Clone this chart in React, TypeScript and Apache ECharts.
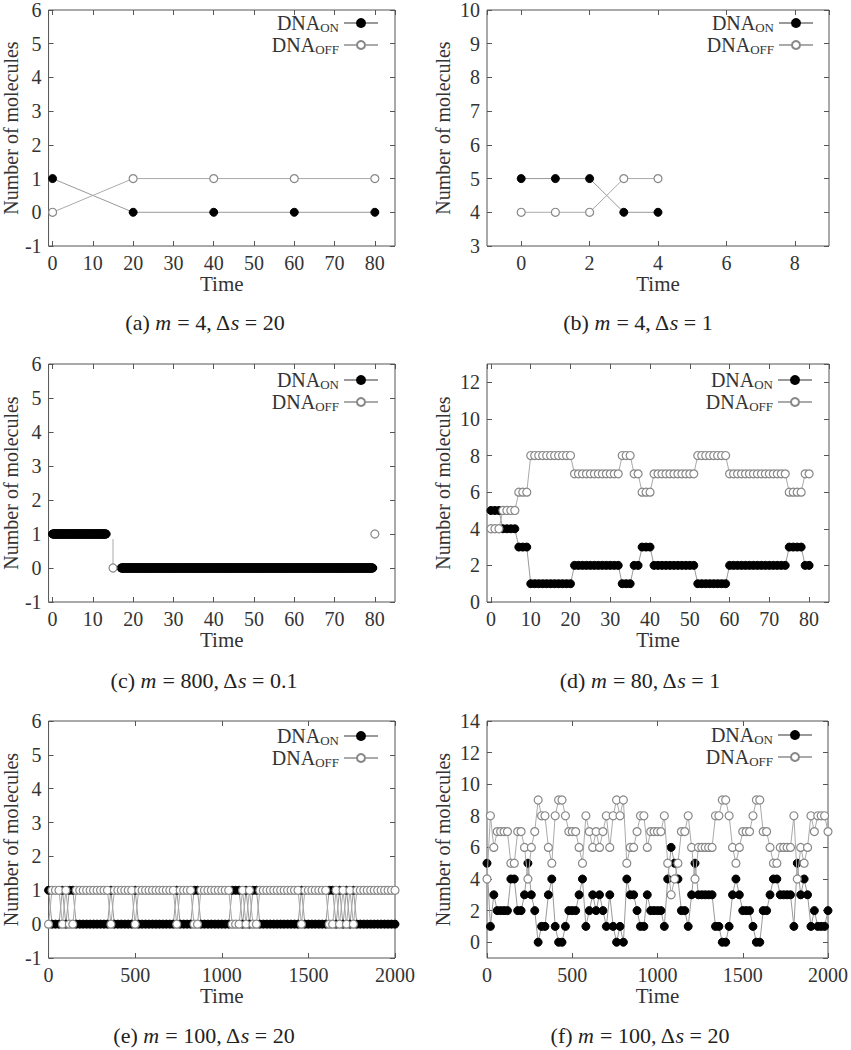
import React, { useEffect, useRef } from 'react';
import * as echarts from 'echarts';

const FONT = 'Liberation Serif, DejaVu Serif, serif';
const TEXT = '#333';
const AXIS = '#555';

// ---------- (a) m = 4, Δs = 20 ----------
const aTime = [0, 20, 40, 60, 80];
const aOn = [1, 0, 0, 0, 0];
const aOff = [0, 1, 1, 1, 1];

// ---------- (b) m = 4, Δs = 1 ----------
const bTime = [0, 1, 2, 3, 4];
const bOn = [5, 5, 5, 4, 4];
const bOff = [4, 4, 4, 5, 5];

// ---------- (c) m = 800, Δs = 0.1 ----------
const cStep = 0.1;
const cOnRuns = [
  { from: 0, to: 13.3, value: 1 },
  { from: 17, to: 79.5, value: 0 },
];
const cOffLine = [[15, 0.85], [15, 0]];
const cOffPoints = [[15, 0], [80, 1]];

// ---------- (d) m = 80, Δs = 1 ----------
const dStep = 1;
const dOn = [
  5, 5, 5, 4, 4, 4, 4, 3, 3, 3,
  1, 1, 1, 1, 1, 1, 1, 1, 1, 1,
  1, 2, 2, 2, 2, 2, 2, 2, 2, 2,
  2, 2, 2, 1, 1, 1, 2, 2, 3, 3,
  3, 2, 2, 2, 2, 2, 2, 2, 2, 2,
  2, 2, 1, 1, 1, 1, 1, 1, 1, 1,
  2, 2, 2, 2, 2, 2, 2, 2, 2, 2,
  2, 2, 2, 2, 2, 3, 3, 3, 3, 2,
  2,
];
const dOff = [
  4, 4, 4, 5, 5, 5, 5, 6, 6, 6,
  8, 8, 8, 8, 8, 8, 8, 8, 8, 8,
  8, 7, 7, 7, 7, 7, 7, 7, 7, 7,
  7, 7, 7, 8, 8, 8, 7, 7, 6, 6,
  6, 7, 7, 7, 7, 7, 7, 7, 7, 7,
  7, 7, 8, 8, 8, 8, 8, 8, 8, 8,
  7, 7, 7, 7, 7, 7, 7, 7, 7, 7,
  7, 7, 7, 7, 7, 6, 6, 6, 6, 7,
  7,
];

// ---------- (e) m = 100, Δs = 20 ----------
const eStep = 20;
const eOn = [
  1, 0, 0, 0, 1, 0, 1, 1, 0, 0,
  0, 0, 0, 0, 0, 0, 0, 0, 1, 0,
  0, 0, 0, 0, 0, 1, 0, 0, 0, 0,
  0, 0, 0, 0, 0, 0, 0, 1, 0, 0,
  0, 0, 1, 1, 0, 0, 0, 0, 0, 0,
  0, 0, 0, 1, 1, 1, 0, 1, 0, 1,
  1, 0, 0, 0, 0, 0, 0, 0, 0, 0,
  0, 0, 0, 1, 0, 0, 0, 0, 0, 0,
  0, 1, 1, 0, 1, 0, 1, 0, 1, 0,
  0, 0, 0, 0, 0, 0, 0, 0, 0, 0,
  0,
];
const eOff = [
  0, 1, 1, 1, 0, 1, 0, 0, 1, 1,
  1, 1, 1, 1, 1, 1, 1, 1, 0, 1,
  1, 1, 1, 1, 1, 0, 1, 1, 1, 1,
  1, 1, 1, 1, 1, 1, 1, 0, 1, 1,
  1, 1, 0, 0, 1, 1, 1, 1, 1, 1,
  1, 1, 1, 0, 0, 0, 1, 0, 1, 0,
  0, 1, 1, 1, 1, 1, 1, 1, 1, 1,
  1, 1, 1, 0, 1, 1, 1, 1, 1, 1,
  1, 0, 0, 1, 0, 1, 0, 1, 0, 1,
  1, 1, 1, 1, 1, 1, 1, 1, 1, 1,
  1,
];

// ---------- (f) m = 100, Δs = 20 ----------
const fStep = 20;
const fOn = [
  5, 1, 3, 2, 2, 2, 2, 4, 4, 2,
  2, 3, 5, 3, 2, 0, 1, 1, 3, 4,
  1, 0, 0, 1, 2, 2, 2, 3, 4, 1,
  2, 3, 2, 3, 2, 1, 3, 1, 0, 1,
  0, 4, 3, 3, 2, 1, 1, 3, 2, 2,
  2, 2, 1, 4, 6, 5, 4, 2, 2, 1,
  3, 5, 3, 3, 3, 3, 3, 1, 1, 0,
  0, 1, 3, 4, 3, 2, 2, 2, 1, 0,
  0, 2, 2, 3, 4, 4, 3, 3, 3, 3,
  1, 5, 3, 4, 3, 1, 2, 1, 1, 1,
  2,
];
const fOff = [
  4, 8, 6, 7, 7, 7, 7, 5, 5, 7,
  7, 6, 4, 6, 7, 9, 8, 8, 6, 5,
  8, 9, 9, 8, 7, 7, 7, 6, 5, 8,
  7, 6, 7, 6, 7, 8, 6, 8, 9, 8,
  9, 5, 6, 6, 7, 8, 8, 6, 7, 7,
  7, 7, 8, 5, 3, 4, 5, 7, 7, 8,
  6, 4, 6, 6, 6, 6, 6, 8, 8, 9,
  9, 8, 6, 5, 6, 7, 7, 7, 8, 9,
  9, 7, 7, 6, 5, 5, 6, 6, 6, 6,
  8, 4, 6, 5, 6, 8, 7, 8, 8, 8,
  7,
];

const ON = 'DNA_ON';
const OFF = 'DNA_OFF';

function pairs(xs: number[], ys: number[]) {
  return ys.map((y, i) => [xs[i], y]);
}
function stepped(step: number, ys: number[]) {
  return ys.map((y, i) => [Math.round(i * step * 1000) / 1000, y]);
}
function runPoints(run: { from: number; to: number; value: number }, step: number) {
  const out: number[][] = [];
  const n = Math.round((run.to - run.from) / step);
  for (let i = 0; i <= n; i++) out.push([Math.round((run.from + i * step) * 1000) / 1000, run.value]);
  return out;
}

type SeriesSpec = { name: string; data: any[]; kind: 'on' | 'off'; lineOnly?: boolean; pointsOnly?: boolean };

type Panel = {
  grid: { left: number; top: number; width: number; height: number };
  x: any;
  y: any;
  series: SeriesSpec[];
  legend: { right: number; top: number };
  caption: { letter: string; m: string; ds: string; x: number; y: number };
  yNameGap: number;
};

const panels: Panel[] = [
  {
    grid: { left: 44, top: 8, width: 351, height: 238 },
    x: { min: -1, max: 85, splitNumber: 9, hideMin: true, hideMax: true },
    y: { min: -1, max: 6, interval: 1 },
    series: [
      { name: ON, data: pairs(aTime, aOn), kind: 'on' },
      { name: OFF, data: pairs(aTime, aOff), kind: 'off' },
    ],
    legend: { right: 472, top: 12 },
    caption: { letter: 'a', m: '4', ds: '20', x: 205, y: 322 },
    yNameGap: 27,
  },
  {
    grid: { left: 487, top: 8, width: 342, height: 238 },
    x: { min: -1, max: 9, splitNumber: 5, hideMin: true, hideMax: true },
    y: { min: 3, max: 10, interval: 1 },
    series: [
      { name: ON, data: pairs(bTime, bOn), kind: 'on' },
      { name: OFF, data: pairs(bTime, bOff), kind: 'off' },
    ],
    legend: { right: 37, top: 12 },
    caption: { letter: 'b', m: '4', ds: '1', x: 638, y: 322 },
    yNameGap: 34,
  },
  {
    grid: { left: 44, top: 364, width: 351, height: 238 },
    x: { min: -1, max: 85, splitNumber: 9, hideMin: true, hideMax: true },
    y: { min: -1, max: 6, interval: 1 },
    series: [
      { name: ON, data: runPoints(cOnRuns[0], cStep), kind: 'on' },
      { name: ON, data: runPoints(cOnRuns[1], cStep), kind: 'on' },
      { name: OFF, data: cOffLine, kind: 'off', lineOnly: true },
      { name: OFF, data: cOffPoints, kind: 'off', pointsOnly: true },
    ],
    legend: { right: 472, top: 369 },
    caption: { letter: 'c', m: '800', ds: '0.1', x: 204, y: 680 },
    yNameGap: 27,
  },
  {
    grid: { left: 487, top: 364, width: 342, height: 238 },
    x: { min: -1, max: 85, splitNumber: 9, hideMin: true, hideMax: true },
    y: { min: 0, max: 13, interval: 2, hideMax: true },
    series: [
      { name: ON, data: stepped(dStep, dOn), kind: 'on' },
      { name: OFF, data: stepped(dStep, dOff), kind: 'off' },
    ],
    legend: { right: 38, top: 369 },
    caption: { letter: 'd', m: '80', ds: '1', x: 640, y: 680 },
    yNameGap: 34,
  },
  {
    grid: { left: 44, top: 721, width: 351, height: 237 },
    x: { min: 0, max: 2000, interval: 500 },
    y: { min: -1, max: 6, interval: 1 },
    series: [
      { name: ON, data: stepped(eStep, eOn), kind: 'on' },
      { name: OFF, data: stepped(eStep, eOff), kind: 'off' },
    ],
    legend: { right: 472, top: 725 },
    caption: { letter: 'e', m: '100', ds: '20', x: 204, y: 1035 },
    yNameGap: 27,
  },
  {
    grid: { left: 487, top: 721, width: 342, height: 237 },
    x: { min: 0, max: 2000, interval: 500 },
    y: { min: -1, max: 14, splitNumber: 7, hideMin: true },
    series: [
      { name: ON, data: stepped(fStep, fOn), kind: 'on' },
      { name: OFF, data: stepped(fStep, fOff), kind: 'off' },
    ],
    legend: { right: 38, top: 724 },
    caption: { letter: 'f', m: '100', ds: '20', x: 640, y: 1035 },
    yNameGap: 34,
  },
];

function buildOption() {
  const grid: any[] = [];
  const xAxis: any[] = [];
  const yAxis: any[] = [];
  const series: any[] = [];
  const legend: any[] = [];
  const graphic: any[] = [];
  const plain = (v: number) => String(v);

  panels.forEach((p, gi) => {
    grid.push({ ...p.grid, show: true, borderColor: AXIS, borderWidth: 1, backgroundColor: 'transparent' });
    const tick = { show: true, inside: true, length: 5, lineStyle: { color: AXIS, width: 1 } };
    const line = { show: false, onZero: false };
    const xBase: any = {
      type: 'value', gridIndex: gi, min: p.x.min, max: p.x.max,
      splitLine: { show: false }, axisLine: line, axisTick: tick,
    };
    if (p.x.interval != null) xBase.interval = p.x.interval;
    if (p.x.splitNumber != null) xBase.splitNumber = p.x.splitNumber;
    const xIdx = xAxis.length;
    xAxis.push({
      ...xBase, position: 'bottom',
      name: 'Time', nameLocation: 'middle', nameGap: 25,
      nameTextStyle: { fontFamily: FONT, fontSize: 21, color: TEXT },
      axisLabel: {
        fontFamily: FONT, fontSize: 20, color: TEXT, margin: 7, formatter: plain,
        showMinLabel: !p.x.hideMin, showMaxLabel: !p.x.hideMax,
      },
    });
    xAxis.push({ ...xBase, position: 'top', axisLabel: { show: false } });

    const yBase: any = {
      type: 'value', gridIndex: gi, min: p.y.min, max: p.y.max,
      splitLine: { show: false }, axisLine: line, axisTick: tick,
    };
    if (p.y.interval != null) yBase.interval = p.y.interval;
    if (p.y.splitNumber != null) yBase.splitNumber = p.y.splitNumber;
    const yIdx = yAxis.length;
    yAxis.push({
      ...yBase, position: 'left',
      name: 'Number of molecules', nameLocation: 'middle', nameGap: p.yNameGap,
      nameTextStyle: { fontFamily: FONT, fontSize: 20, color: TEXT },
      axisLabel: {
        fontFamily: FONT, fontSize: 20, color: TEXT, margin: 7, formatter: plain,
        showMinLabel: !p.y.hideMin, showMaxLabel: !p.y.hideMax,
      },
    });
    yAxis.push({ ...yBase, position: 'right', axisLabel: { show: false } });

    p.series.forEach((s) => {
      const isOn = s.kind === 'on';
      series.push({
        type: 'line', name: s.name, xAxisIndex: xIdx, yAxisIndex: yIdx,
        data: s.data, silent: true, showAllSymbol: true,
        symbol: s.lineOnly ? 'none' : 'circle', symbolSize: 8,
        itemStyle: isOn
          ? { color: '#000', borderColor: '#000', borderWidth: 1 }
          : { color: '#fff', borderColor: '#888', borderWidth: 1.2 },
        lineStyle: { color: isOn ? '#999' : '#aaa', width: 1, opacity: s.pointsOnly ? 0 : 1 },
        z: isOn ? 2 : 3,
        emphasis: { disabled: true },
      });
    });

    legend.push({
      orient: 'vertical', right: p.legend.right, top: p.legend.top, align: 'right',
      itemWidth: 34, itemHeight: 10, itemGap: 0, padding: 0, selectedMode: false,
      data: [ON, OFF],
      formatter: (name: string) => (name === ON ? '{n|DNA}{s|ON}' : '{n|DNA}{s|OFF}'),
      textStyle: {
        color: TEXT,
        rich: {
          n: { fontFamily: FONT, fontSize: 20, color: TEXT, lineHeight: 22 },
          s: { fontFamily: FONT, fontSize: 13, color: TEXT, lineHeight: 22, padding: [9, 0, 0, 0] },
        },
      },
    });

    const c = p.caption;
    graphic.push({
      type: 'text', x: c.x, y: c.y, silent: true,
      style: {
        text: `{r|(${c.letter}) }{i|m}{r| = ${c.m}, Δ}{i|s}{r| = ${c.ds}}`,
        align: 'center', verticalAlign: 'middle',
        rich: {
          r: { fontFamily: FONT, fontSize: 22, fill: '#222' },
          i: { fontFamily: FONT, fontSize: 22, fontStyle: 'italic', fill: '#222' },
        },
      },
    });
  });

  return { animation: false, backgroundColor: '#fff', grid, xAxis, yAxis, series, legend, graphic };
}

export default function App() {
  const ref = useRef<HTMLDivElement>(null);
  useEffect(() => {
    document.body.style.margin = '0';
    const chart = echarts.init(ref.current!, null, { renderer: 'svg' });
    chart.setOption(buildOption() as any);
    return () => chart.dispose();
  }, []);
  return <div ref={ref} style={{ width: 851, height: 1050 }} />;
}
